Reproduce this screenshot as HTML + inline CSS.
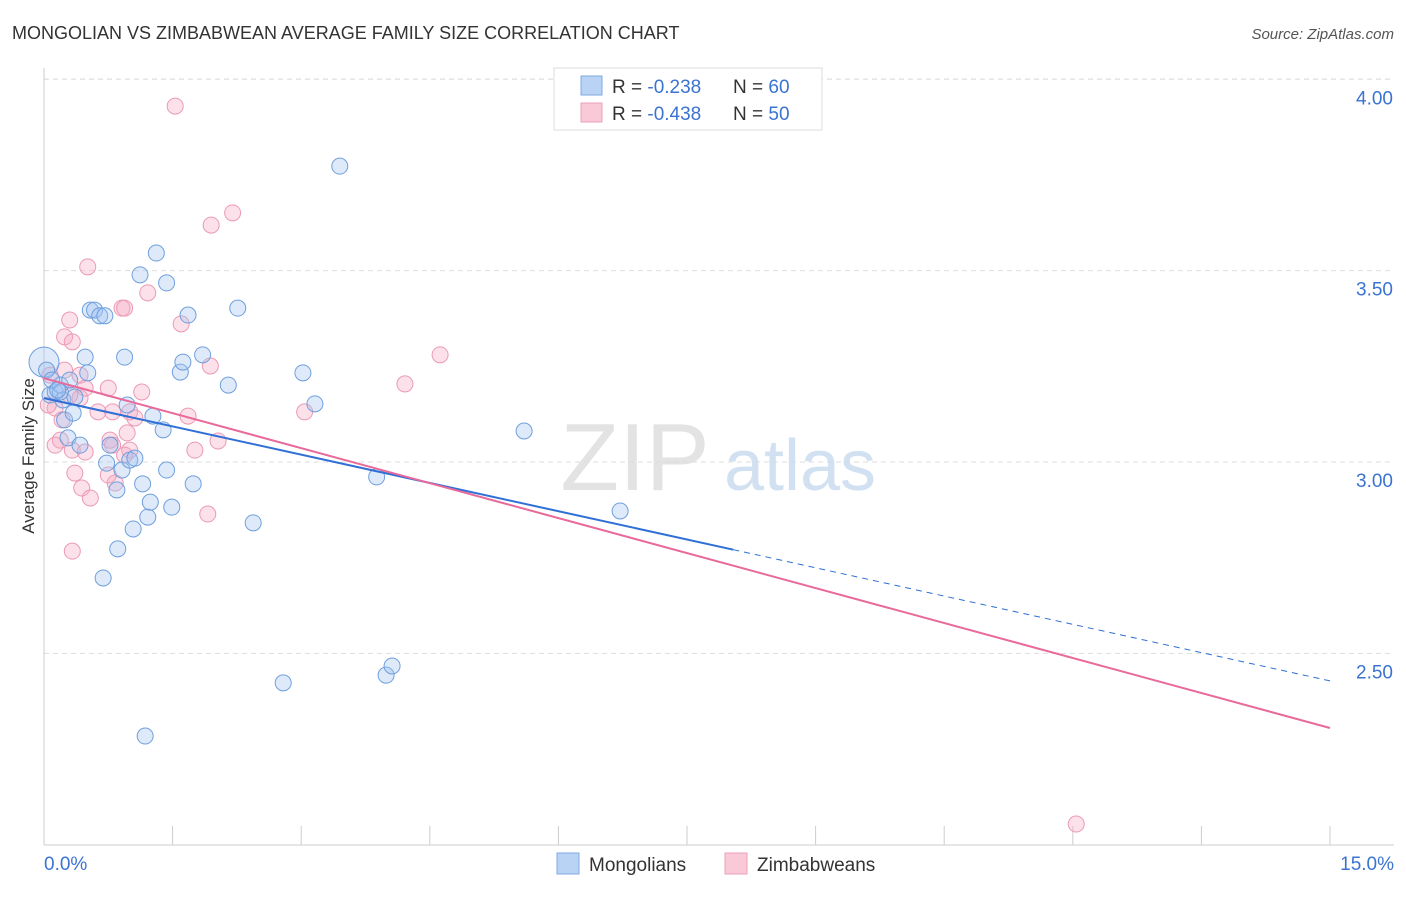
<!DOCTYPE html>
<html><head><meta charset="utf-8"><style>
body{margin:0;background:#fff;font-family:"Liberation Sans",sans-serif;}
svg text{font-family:"Liberation Sans",sans-serif;}
</style></head><body>
<svg id="chart" width="1406" height="892" viewBox="0 0 1406 892" xmlns="http://www.w3.org/2000/svg">
<text x="12" y="39" font-size="18" fill="#333">MONGOLIAN VS ZIMBABWEAN AVERAGE FAMILY SIZE CORRELATION CHART</text>
<text x="1394" y="39" font-size="15" fill="#555" font-style="italic" text-anchor="end">Source: ZipAtlas.com</text>
<text x="34" y="456" font-size="17" fill="#333" text-anchor="middle" transform="rotate(-90 34 456)">Average Family Size</text>
<g id="grid"></g>
<g>
<text x="635" y="490" font-size="96" fill="#ddd" font-family="Liberation Serif" text-anchor="middle" opacity="0.8">ZIP</text>
<text x="800" y="490" font-size="72" fill="#c8daf0" text-anchor="middle" opacity="0.8">atlas</text>
</g>
<g id="pts"></g>
<g id="lines"></g>
<g>
<rect x="554" y="68" width="268" height="62" fill="#fff" stroke="#ddd"/>
<rect x="581" y="76" width="21" height="19" fill="#b9d3f5" stroke="#7fa8e0"/>
<rect x="581" y="103" width="21" height="19" fill="#fac9d8" stroke="#eea0b8"/>
<text x="612" y="93" font-size="19" fill="#333">R = <tspan fill="#3b73d1">-0.238</tspan><tspan x="733">N = </tspan><tspan fill="#3b73d1">60</tspan></text>
<text x="612" y="120" font-size="19" fill="#333">R = <tspan fill="#3b73d1">-0.438</tspan><tspan x="733">N = </tspan><tspan fill="#3b73d1">50</tspan></text>
</g>
<g>
<rect x="557" y="853" width="22" height="21" fill="#b9d3f5" stroke="#7fa8e0"/>
<text x="589" y="871" font-size="19" fill="#333">Mongolians</text>
<rect x="725" y="853" width="22" height="21" fill="#fac9d8" stroke="#eea0b8"/>
<text x="757" y="871" font-size="19" fill="#333">Zimbabweans</text>
</g>
</svg>
<script>
const xTicks=[0,1.5,3,4.5,6,7.5,9,10.5,12,13.5,15];
const yTicks=[2.5,3.0,3.5,4.0];
const yTickLabels=["2.50","3.00","3.50","4.00"];
const mongX=[0.00,0.03,0.07,0.13,0.19,0.22,0.24,0.28,0.34,0.42,0.48,0.51,0.54,0.59,0.65,0.71,0.73,0.77,0.69,0.86,0.85,0.91,0.94,0.97,1.00,1.06,1.04,1.12,1.15,1.21,1.24,1.27,1.31,1.39,1.43,1.43,1.49,1.59,1.62,1.68,1.74,1.85,2.15,2.26,2.44,2.79,3.02,3.16,3.45,3.88,3.99,4.06,5.60,6.72,1.18,0.19,0.36,0.30,0.09,0.16];
const mongY=[3.261,3.240,3.175,3.183,3.201,3.162,3.110,3.063,3.128,3.044,3.274,3.233,3.397,3.397,3.382,3.382,2.997,3.044,2.697,2.773,2.927,2.979,3.274,3.149,3.005,3.010,2.825,3.489,2.943,2.856,2.895,3.120,3.546,3.084,3.468,2.979,2.882,3.235,3.261,3.384,2.943,3.280,3.201,3.402,2.841,2.423,3.233,3.152,3.773,2.961,2.443,2.467,3.081,2.872,2.284,3.183,3.170,3.214,3.214,3.188];
const zimX=[1.53,1.95,2.20,0.51,1.21,0.91,0.94,1.60,0.30,0.24,0.33,1.94,4.62,4.21,0.24,0.13,0.42,0.48,0.75,1.14,0.21,0.63,0.80,1.00,1.06,1.68,3.04,0.19,0.33,0.48,0.77,0.80,0.97,1.00,2.03,1.76,0.36,0.44,0.54,0.83,1.91,0.33,12.04,0.13,0.05,0.30,0.75,0.94,0.07,0.42];
const zimY=[3.930,3.619,3.651,3.510,3.442,3.402,3.402,3.361,3.371,3.327,3.314,3.251,3.280,3.204,3.240,3.141,3.167,3.193,3.193,3.183,3.110,3.131,3.131,3.131,3.115,3.120,3.131,3.057,3.031,3.026,3.057,3.044,3.076,3.031,3.055,3.031,2.971,2.932,2.906,2.945,2.864,2.767,2.054,3.044,3.149,3.175,2.966,3.018,3.227,3.227];
const mongTrend=[3.167,2.428]; const mongSolidEnd=8.04;
const zimTrend=[3.219,2.305];

const NS="http://www.w3.org/2000/svg";
const X=v=>44+v/15*1286;
const Y=v=>462-(v-3)*382.7;
function mk(t,a,p){const e=document.createElementNS(NS,t);for(const k in a)e.setAttribute(k,a[k]);p.appendChild(e);return e;}
const grid=document.getElementById('grid');
const svg=document.getElementById('chart');
yTicks.forEach((v,i)=>{
  const l=mk('line',{x1:44,x2:1394,y1:Y(v),y2:Y(v),stroke:'#ddd','stroke-dasharray':'5,4'},grid);
  
  
  const t=mk('text',{x:1393,y:Y(v)+25,'font-size':19,fill:'#3b73d1','text-anchor':'end'},grid);
  t.textContent=yTickLabels[i];
  
  
});
mk('line',{x1:44,x2:1394,y1:79,y2:79,stroke:'#ddd','stroke-dasharray':'5,4'},grid);
mk('line',{x1:44,x2:44,y1:68,y2:845,stroke:'#ccc'},grid);
mk('line',{x1:44,x2:1394,y1:845,y2:845,stroke:'#ccc'},grid);
xTicks.forEach(v=>{
  const l=mk('line',{x1:X(v),x2:X(v),y1:826,y2:845,stroke:'#ccc'},grid);
  
  
});
const x0=mk('text',{x:44,y:870,'font-size':19,fill:'#3b73d1'},grid);x0.textContent='0.0%';


const x1=mk('text',{x:1394,y:870,'font-size':19,fill:'#3b73d1','text-anchor':'end'},grid);x1.textContent='15.0%';


const pts=document.getElementById('pts');
zimX.forEach((v,i)=>{
  const c=mk('circle',{cx:X(v),cy:Y(zimY[i]),r:8,fill:'rgba(245,170,195,0.35)',stroke:'#eb9ab5','stroke-width':1},pts);
  
  
});
mongX.forEach((v,i)=>{
  const c=mk('circle',{cx:X(v),cy:Y(mongY[i]),r:i===0?15:8,fill:'rgba(160,195,240,0.35)',stroke:'#6f9fdc','stroke-width':1},pts);
  
  
});
const lines=document.getElementById('lines');
const mAt=x=>mongTrend[0]+(mongTrend[1]-mongTrend[0])*x/15;
const bl=mk('line',{x1:X(0),y1:Y(mongTrend[0]),x2:X(mongSolidEnd),y2:Y(mAt(mongSolidEnd)),stroke:'#2f6fd6','stroke-width':2},lines);


const bd=mk('line',{x1:X(mongSolidEnd),y1:Y(mAt(mongSolidEnd)),x2:X(15),y2:Y(mongTrend[1]),stroke:'#2f6fd6','stroke-width':1,'stroke-dasharray':'6,5'},lines);


const pl=mk('line',{x1:X(0),y1:Y(zimTrend[0]),x2:X(15),y2:Y(zimTrend[1]),stroke:'#e8699a','stroke-width':2},lines);


</script>
</body></html>
